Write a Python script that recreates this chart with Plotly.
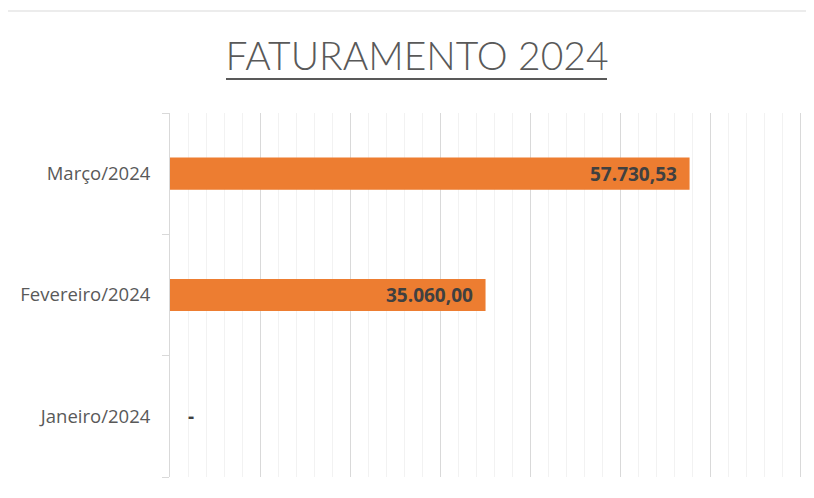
from __future__ import annotations

import pandas as pd
import plotly.graph_objects as go


def _format_brl(value: float) -> str:
    if value == 0:
        return "-"
    text = f"{value:,.2f}"
    return text.replace(",", "X").replace(".", ",").replace("X", ".")


def _revenue_table() -> pd.DataFrame:
    return pd.DataFrame(
        {
            "mes": ["Janeiro/2024", "Fevereiro/2024", "Março/2024"],
            "faturamento": [0.0, 35060.00, 57730.53],
        }
    )


def build_revenue_bars(df: pd.DataFrame, title: str):
    fig = go.Figure()

    fig.add_trace(
        go.Bar(
            x=df["faturamento"],
            y=df["mes"],
            orientation="h",
            width=0.265,
            marker={"color": "#ED7D31", "line": {"width": 0}},
            hoverinfo="skip",
        )
    )

    for mes, valor in zip(df["mes"], df["faturamento"]):
        fig.add_annotation(
            x=valor,
            y=mes,
            text=_format_brl(valor),
            showarrow=False,
            xanchor="left" if valor == 0 else "right",
            xshift=16 if valor == 0 else -11,
            font={"family": "Open Sans", "size": 19, "color": "#404040", "weight": "bold"},
        )

    # moldura da área do gráfico (a página já desloca 8 px)
    fig.add_shape(
        type="rect",
        xref="paper",
        yref="paper",
        x0=-0.2635,
        x1=1.2,
        y0=-0.3,
        y1=466 / 364,
        line={"color": "#d9d9d9", "width": 1},
        layer="below",
    )
    # sublinhado do título
    fig.add_shape(
        type="line",
        xref="paper",
        yref="paper",
        x0=(218 - 162) / 632,
        x1=(599 - 162) / 632,
        y0=(469 - 71) / 364,
        y1=(469 - 71) / 364,
        line={"color": "#595959", "width": 2},
    )

    fig.update_layout(
        title={
            "text": title,
            "x": 409 / 806,
            "xanchor": "center",
            "y": 1 - 48 / 490,
            "yanchor": "middle",
            "font": {"family": "Lato", "size": 39, "color": "#595959", "weight": 300},
        },
        width=806,
        height=490,
        margin={"l": 162, "r": 12, "t": 105, "b": 21},
        plot_bgcolor="white",
        paper_bgcolor="white",
        showlegend=False,
        bargap=0.5,
    )
    fig.update_xaxes(
        range=[0, 70000 * 632 / 630],  # folga de 2 px para a última linha de grade
        dtick=10000,
        showticklabels=False,
        showgrid=True,
        gridcolor="#d9d9d9",
        gridwidth=1,
        minor={"dtick": 2000, "showgrid": True, "gridcolor": "#f2f2f2", "gridwidth": 1},
        zeroline=False,
        showline=False,
    )
    fig.update_yaxes(
        showline=True,
        linecolor="#d9d9d9",
        linewidth=1,
        ticks="outside",
        tickson="boundaries",
        ticklen=7,
        tickcolor="#d9d9d9",
        ticklabelstandoff=15,
        tickfont={"family": "Open Sans", "size": 18.5, "color": "#595959"},
        showgrid=False,
    )
    return fig


fig = build_revenue_bars(_revenue_table(), "FATURAMENTO 2024")
fig.write_html("out.html")
